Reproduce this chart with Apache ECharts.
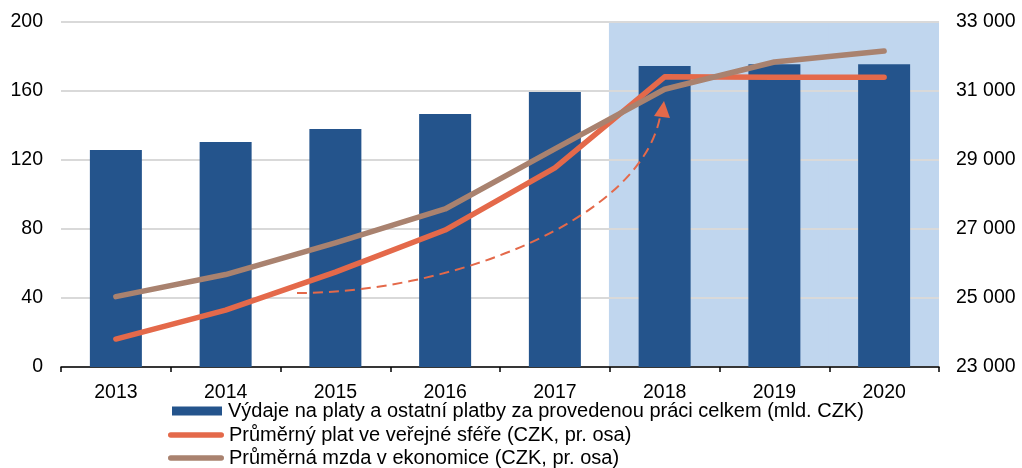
<!DOCTYPE html>
<html>
<head>
<meta charset="utf-8">
<script src="https://cdn.jsdelivr.net/npm/echarts@6/dist/echarts.min.js"></script>
<style>
  html, body { margin: 0; padding: 0; background: #fff; }
  #main { width: 1022px; height: 468px; }
</style>
</head>
<body>
<div id="main"></div>
<script>
// data
var years = ['2013', '2014', '2015', '2016', '2017', '2018', '2019', '2020'];
var vydaje = [125.8, 130.4, 138.0, 146.7, 159.4, 174.5, 175.5, 175.5];
var platVerejny = [23810, 24650, 25750, 26970, 28770, 31410, 31400, 31400];
var mzdaEkonomika = [25040, 25680, 26600, 27580, 29320, 31050, 31840, 32160];
// shaded years (forecast)
var shade = [null, null, null, null, null, 200, 200, 200];

var names = [
  'Výdaje na platy a ostatní platby za provedenou práci celkem (mld. CZK)',
  'Průměrný plat ve veřejné sféře (CZK, pr. osa)',
  'Průměrná mzda v ekonomice (CZK, pr. osa)'
];

var lineIcon = 'path://M3,0 H57 A3,3 0 0 1 57,6 H3 A3,3 0 0 1 3,0 Z';
var font = 'Liberation Sans, Arial, sans-serif';
var axisFont = 19.5;
var legendText = { fontSize: 20, color: '#000', fontFamily: font, lineHeight: 20 };

var myChart = echarts.init(document.getElementById('main'));

var option = {
  animation: false,
  textStyle: { fontFamily: font },
  grid: { left: 61, right: 83, top: 22, bottom: 101 },
  legend: [
    {
      left: 172, top: 401, padding: 0,
      itemWidth: 50, itemHeight: 9,
      textStyle: Object.assign({ padding: [0, 0, 0, 1] }, legendText),
      data: [{ name: names[0], icon: 'rect' }]
    },
    {
      left: 168, top: 425, padding: 0,
      itemWidth: 56, itemHeight: 6,
      textStyle: legendText,
      data: [{ name: names[1], icon: lineIcon }]
    },
    {
      left: 168, top: 448, padding: 0,
      itemWidth: 56, itemHeight: 6,
      textStyle: legendText,
      data: [{ name: names[2], icon: lineIcon }]
    }
  ],
  xAxis: [
    {
      type: 'category',
      data: years,
      z: 1,
      axisLine: { lineStyle: { color: '#000', width: 1.5 } },
      axisTick: { show: true, length: 5, lineStyle: { color: '#000', width: 1.5 } },
      axisLabel: { fontSize: axisFont, color: '#000', margin: 16 }
    },
    {
      type: 'category',
      data: years,
      show: false
    }
  ],
  yAxis: [
    {
      type: 'value',
      min: 0,
      max: 200,
      interval: 40,
      z: 1,
      axisLine: { show: false },
      axisTick: { show: false },
      axisLabel: { fontSize: axisFont, color: '#000', margin: 18 },
      splitLine: { lineStyle: { color: '#d9d9d9', width: 2 } }
    },
    {
      type: 'value',
      min: 23000,
      max: 33000,
      interval: 2000,
      z: 1,
      axisLine: { show: false },
      axisTick: { show: false },
      splitLine: { show: false },
      axisLabel: {
        fontSize: axisFont,
        color: '#000',
        margin: 17,
        formatter: function (v) {
          return String(v).replace(/\B(?=(\d{3})+(?!\d))/g, ' ');
        }
      }
    }
  ],
  series: [
    {
      name: 'shade',
      type: 'bar',
      xAxisIndex: 1,
      yAxisIndex: 0,
      data: shade,
      barWidth: '101.5%',
      z: 0,
      itemStyle: { color: '#c0d6ee' },
      silent: true
    },
    {
      name: names[0],
      type: 'bar',
      data: vydaje,
      barWidth: 52,
      z: 2,
      itemStyle: { color: '#24548c' }
    },
    {
      name: names[1],
      type: 'line',
      yAxisIndex: 1,
      data: platVerejny,
      symbol: 'none',
      z: 3,
      itemStyle: { color: '#e4694a' },
      lineStyle: { color: '#e4694a', width: 5.5, cap: 'round', join: 'round' }
    },
    {
      name: names[2],
      type: 'line',
      yAxisIndex: 1,
      data: mzdaEkonomika,
      symbol: 'none',
      z: 4,
      itemStyle: { color: '#a9826f' },
      lineStyle: { color: '#a9826f', width: 5.5, cap: 'round', join: 'round' }
    }
  ],
  // dashed arrow annotation
  graphic: [
    {
      type: 'bezierCurve',
      z: 10,
      shape: { x1: 297, y1: 293, cpx1: 450, cpy1: 293, cpx2: 640, cpy2: 220, x2: 660, y2: 117 },
      style: { stroke: '#e4694a', lineWidth: 2, lineDash: [10, 6], fill: null }
    },
    {
      type: 'polygon',
      z: 10,
      shape: { points: [[664, 101], [654, 116], [670, 118]] },
      style: { fill: '#e4694a' }
    }
  ]
};

myChart.setOption(option);
</script>
</body>
</html>
